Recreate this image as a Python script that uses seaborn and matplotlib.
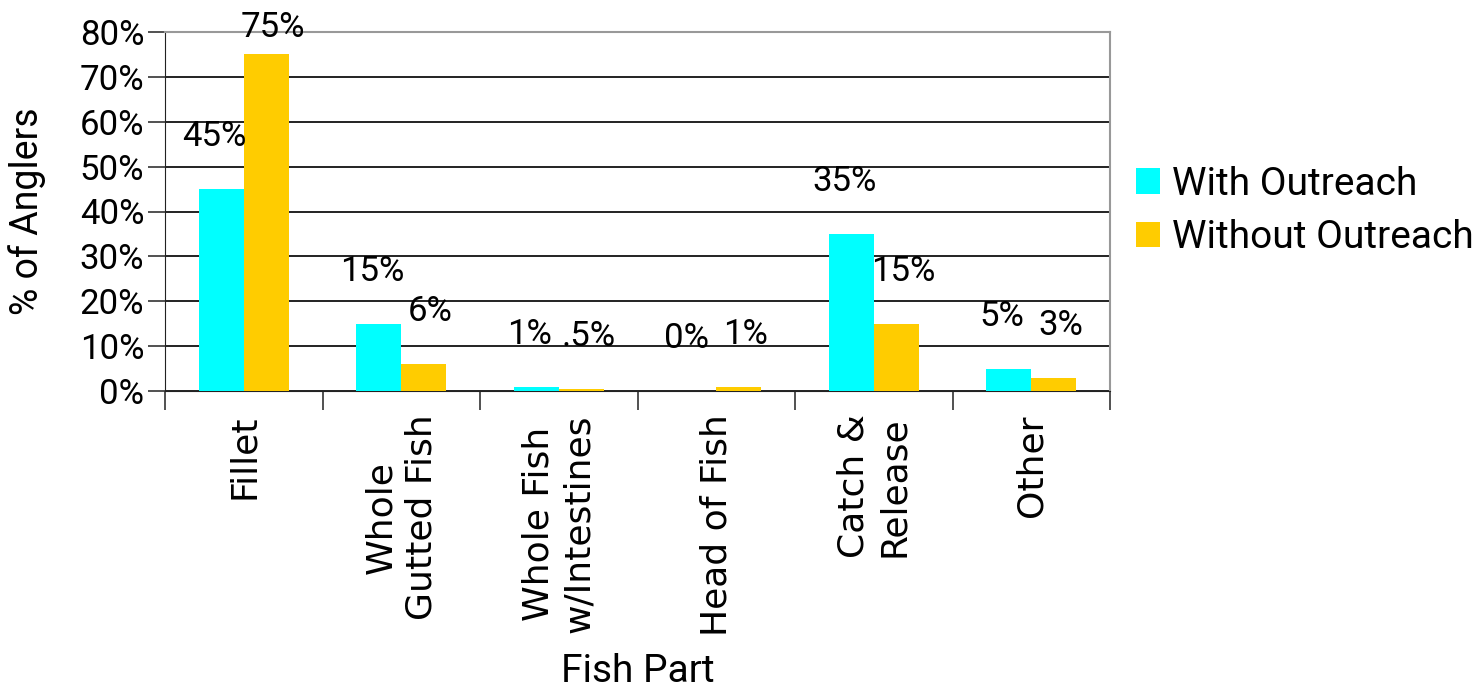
import pandas as pd
import matplotlib
matplotlib.use('Agg')
import matplotlib.pyplot as plt
import seaborn as sns
from matplotlib.patches import Patch

# chart data
categories = ["Fillet", "Whole\nGutted Fish", "Whole Fish\nw/Intestines",
              "Head of Fish", "Catch &\nRelease", "Other"]
with_outreach = [45, 15, 1, 0, 35, 5]
without_outreach = [75, 6, 0.5, 1, 15, 3]
with_labels = ["45%", "15%", "1%", "0%", "35%", "5%"]
without_labels = ["75%", "6%", ".5%", "1%", "15%", "3%"]
series_names = ["With Outreach", "Without Outreach"]
y_ticks = [0, 10, 20, 30, 40, 50, 60, 70, 80]

df = pd.DataFrame({
    "part": categories * 2,
    "value": with_outreach + without_outreach,
    "series": [series_names[0]] * len(categories) + [series_names[1]] * len(categories),
})

sns.set_style("white")
plt.rcParams['font.family'] = ["Roboto", "DejaVu Sans"]
plt.rcParams['text.color'] = "black"
plt.rcParams['axes.labelcolor'] = "black"
plt.rcParams['xtick.color'] = "black"
plt.rcParams['ytick.color'] = "black"

fig = plt.figure(figsize=(14.82, 6.9), dpi=100)
ax = fig.add_axes([165 / 1482, 1 - 391 / 690, 945 / 1482, 359 / 690])

palette = {series_names[0]: "#00FFFF", series_names[1]: "#FFCC00"}
sns.barplot(data=df, x="part", y="value", hue="series", palette=palette,
            width=0.57, saturation=1, linewidth=0, ax=ax, legend=False, zorder=3)

ax.set_ylim(0, 80)
ax.set_xlim(-0.5, len(categories) - 0.5)
ax.set_yticks(y_ticks)
ax.set_yticklabels([f"{t}%" for t in y_ticks], fontsize=25)
ax.yaxis.grid(True, color="#111111", linewidth=1.3, zorder=0)
ax.xaxis.grid(False)

# x ticks at category boundaries, labels centred between
ax.set_xticks([i - 0.5 for i in range(len(categories) + 1)])
ax.set_xticklabels([])
ax.set_xticks(range(len(categories)), minor=True)
ax.set_xticklabels(categories, minor=True, rotation=90, fontsize=26,
                   family="DejaVu Sans", va="top", ha="center",
                   multialignment="center", linespacing=1.25)
ax.tick_params(axis="x", which="major", length=14, width=1.2, color="#333333", bottom=True)
ax.tick_params(axis="x", which="minor", length=0, pad=17)
ax.tick_params(axis="y", length=12, width=1.2, color="#333333", left=True, pad=3)

for side in ["top", "right"]:
    ax.spines[side].set_color("#999999")
    ax.spines[side].set_linewidth(1.5)
ax.spines["left"].set_color("#222222")
ax.spines["bottom"].set_color("#222222")
ax.spines["left"].set_bounds(0, 80)

ax.set_xlabel("Fish Part", fontsize=28)
ax.xaxis.set_label_coords(0.5, -(653 - 391) / 359)
ax.set_ylabel("% of Anglers", fontsize=27)
ax.yaxis.set_label_coords(-(165 - 46) / 945, 0.5)

# value labels, nudged apart a little like the original
for container, labels, dx in zip(ax.containers, [with_labels, without_labels], [-5, 5]):
    for bar, lab in zip(container, labels):
        top = min(bar.get_height() + 8, 77.3)
        ax.annotate(lab, (bar.get_x() + bar.get_width() / 2, top),
                    xytext=(dx, 0), textcoords="offset points",
                    ha="center", va="bottom", fontsize=25, zorder=5)

handles = [Patch(facecolor=palette[n], edgecolor="none") for n in series_names]
fig.legend(handles, series_names, loc="center left", bbox_to_anchor=(1136 / 1482, 1 - 211 / 690),
           frameon=False, fontsize=28, handlelength=0.62, handleheight=0.62,
           handletextpad=0.3, labelspacing=0.43, borderaxespad=0, borderpad=0)

fig.savefig("out.png", dpi=100)
